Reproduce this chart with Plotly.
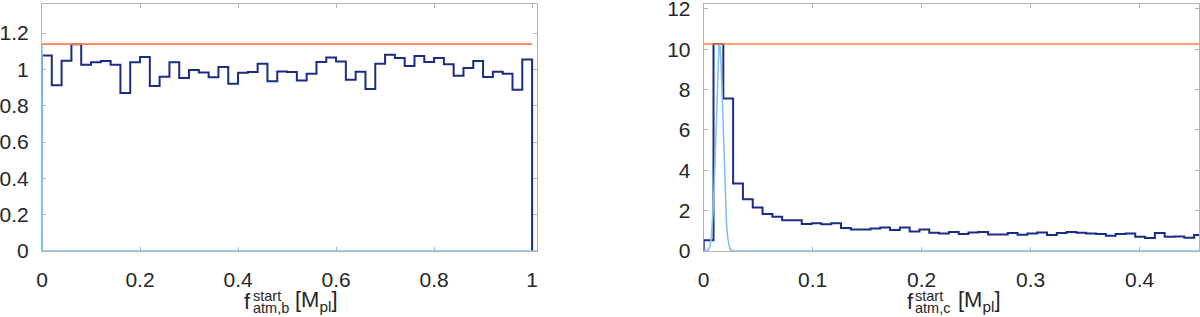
import numpy as np
import plotly.graph_objects as go

# ---------------- data ----------------
# left panel: normalised histogram of f_atm,b start (50 bins of width 0.02)
left_bin_width = 0.02
left_hist = [1.077, 0.912, 1.048, 1.139, 1.026, 1.039, 1.046, 1.026, 0.870, 1.039,
             1.068, 0.908, 0.960, 1.039, 0.952, 0.996, 0.983, 0.956, 1.013, 0.921,
             0.982, 0.985, 1.031, 0.934, 0.989, 0.985, 0.939, 0.976, 1.040, 1.066,
             1.044, 0.943, 0.987, 0.892, 1.031, 1.081, 1.062, 1.018, 1.073, 1.040,
             1.062, 1.028, 0.965, 1.007, 1.046, 0.958, 0.987, 0.976, 0.888, 1.055]
left_prior_x = [0.0, 0.0006, 1.01]
left_prior_y = [1.139, 0.0, 0.0]
left_level = 1.139
left_level_x = [0.0, 1.0]

# right panel: normalised histogram of f_atm,c start (bins of width 0.009)
right_bin_width = 0.009
right_hist = [0.53, 10.26, 7.56, 3.34, 2.56, 2.15, 1.83, 1.70, 1.52, 1.52,
              1.34, 1.38, 1.32, 1.37, 1.14, 1.06, 1.06, 1.11, 1.17, 1.04,
              1.16, 0.97, 1.06, 0.91, 0.87, 0.94, 0.84, 0.92, 0.94, 0.82,
              0.82, 0.89, 0.81, 0.87, 0.92, 0.79, 0.89, 0.94, 0.91, 0.87,
              0.84, 0.76, 0.84, 0.87, 0.71, 0.64, 0.89, 0.71, 0.72, 0.66,
              0.79]
right_prior_x = [0.0, 0.004, 0.005, 0.006, 0.007, 0.008, 0.009, 0.010, 0.011, 0.012,
                 0.013, 0.014, 0.0145, 0.015, 0.016, 0.017, 0.018, 0.019, 0.020,
                 0.021, 0.022, 0.023, 0.024, 0.025, 0.028, 0.46]
right_prior_y = [0.0, 0.05, 0.12, 0.30, 0.66, 1.30, 2.34, 3.82, 5.64, 7.56,
                 9.19, 10.14, 10.26, 10.14, 9.19, 7.56, 5.64, 3.82, 2.34,
                 1.30, 0.66, 0.30, 0.12, 0.05, 0.0, 0.0]
right_level = 10.26
right_level_x = [0.0, 0.46]

left_xticks = [0, 0.2, 0.4, 0.6, 0.8, 1]
left_yticks = [0, 0.2, 0.4, 0.6, 0.8, 1, 1.2]
right_xticks = [0, 0.1, 0.2, 0.3, 0.4]
right_yticks = [0, 2, 4, 6, 8, 10, 12]

# ---------------- style ----------------
W, H = 1200, 317
FONT = "Liberation Sans, Arial, Helvetica, sans-serif"
NAVY = "#1c2b86"
LIGHT = "#80c2f7"
ORANGE = "#ff7f45"
AXC = "#b3b3b3"
TXT = "#262626"


def stairs(hist, bw):
    edges = np.arange(len(hist) + 1) * bw
    xs = [edges[0]] + list(edges[:-1]) + [edges[-1]]
    ys = [0.0] + list(hist) + [0.0]
    return xs, ys


fig = go.Figure()

for hist, bw, px, py, lvl, lvx, xa, ya in [
    (left_hist, left_bin_width, left_prior_x, left_prior_y, left_level, left_level_x, "x", "y"),
    (right_hist, right_bin_width, right_prior_x, right_prior_y, right_level, right_level_x, "x2", "y2"),
]:
    sx, sy = stairs(hist, bw)
    fig.add_trace(go.Scatter(x=sx, y=sy, mode="lines", line=dict(color=NAVY, width=2, shape="hv"),
                             xaxis=xa, yaxis=ya, showlegend=False, hoverinfo="skip"))
    fig.add_trace(go.Scatter(x=px, y=py, mode="lines", line=dict(color=LIGHT, width=1.6),
                             xaxis=xa, yaxis=ya, showlegend=False, hoverinfo="skip"))
    fig.add_trace(go.Scatter(x=lvx, y=[lvl, lvl], mode="lines", line=dict(color=ORANGE, width=1.6),
                             xaxis=xa, yaxis=ya, showlegend=False, hoverinfo="skip"))

ybot = (H - 251) / H
ytop = (H - 4) / H

common_axis = dict(showline=True, linecolor=AXC, linewidth=1, mirror="ticks", ticks="inside",
                   ticklen=4, tickcolor=AXC, tickwidth=1, showgrid=False, zeroline=False,
                   tickfont=dict(family=FONT, size=21, color=TXT), layer="below traces",
                   automargin=False, ticklabeloverflow="allow")

fig.update_layout(
    width=W, height=H,
    margin=dict(l=0, r=0, t=0, b=0, autoexpand=False),
    paper_bgcolor="white", plot_bgcolor="white",
    xaxis=dict(domain=[42 / W, 537 / W], range=[0, 1.01], tickvals=left_xticks,
               anchor="y", ticklabelstandoff=10, **common_axis),
    yaxis=dict(domain=[ybot, ytop], range=[0, 1.36], tickvals=left_yticks,
               anchor="x", ticklabelstandoff=8, **common_axis),
    xaxis2=dict(domain=[703.7 / W, 1199 / W], range=[0, 0.4545], tickvals=right_xticks,
                anchor="y2", ticklabelstandoff=10, **common_axis),
    yaxis2=dict(domain=[ybot, ytop], range=[0, 12.24], tickvals=right_yticks,
                anchor="x2", ticklabelstandoff=8, **common_axis),
)


def py2paper(p):
    return (H - p) / H


def add_label(x_f, x_ss, x_unit, sub):
    anns = [
        dict(text="f", x=x_f / W, y=py2paper(301.3), size=22),
        dict(text="start", x=x_ss / W, y=py2paper(295.5), size=14.5),
        dict(text=sub, x=x_ss / W, y=py2paper(308.0), size=14.5),
        dict(text="[M<sub>pl</sub>]", x=x_unit / W, y=py2paper(301.3), size=22),
    ]
    for a in anns:
        fig.add_annotation(text=a["text"], x=a["x"], y=a["y"], xref="paper", yref="paper",
                           xanchor="left", yanchor="middle", showarrow=False,
                           font=dict(family=FONT, size=a["size"], color=TXT))


add_label(241.5, 250.5, 293.0, "atm,b")
add_label(904.5, 913.0, 955.5, "atm,c")

fig.write_html("out.html", config={"displayModeBar": False},
               post_script="document.body.style.margin='0px';document.body.style.overflow='hidden';")
